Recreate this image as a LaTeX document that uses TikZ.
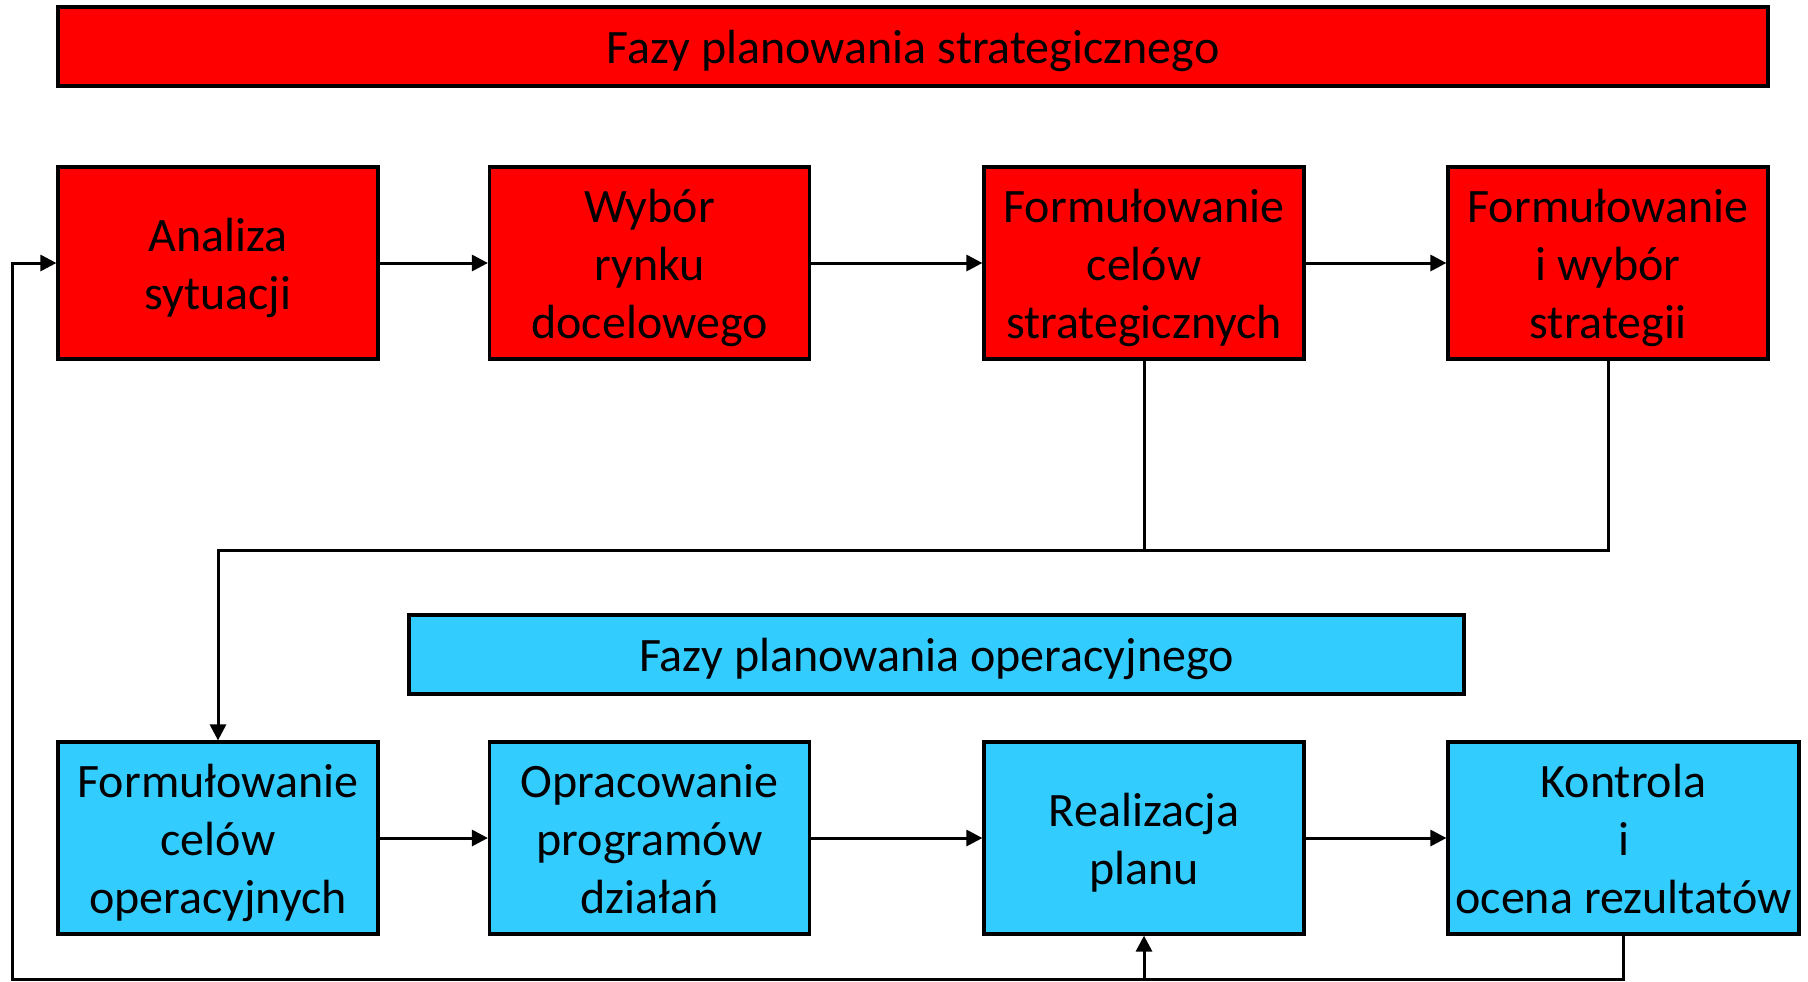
\documentclass[tikz,border=0pt]{standalone}
\usepackage{fontspec}
\setmainfont{Carlito}
\usepackage{xcolor}
\usepackage{tikz}
\usetikzlibrary{positioning, arrows.meta}

\definecolor{stratred}{RGB}{255,0,0}
\definecolor{operblue}{RGB}{51,204,255}

\begin{document}
\begin{tikzpicture}[x=0.5pt,y=-0.5pt,
                    every node/.style={font=\fontsize{24}{29}\selectfont,
                                       execute at begin node=\rule{0pt}{23pt},
                                       execute at end node=\rule[-6pt]{0pt}{0pt}},
                    phase/.style={draw=black, line width=1.6pt, align=flush center, text width=150pt,
                                  minimum width=160pt, minimum height=96pt, inner sep=0pt},
                    header/.style={draw=black, line width=1.6pt, minimum height=39.5pt, inner sep=0pt},
                    link/.style={line width=1.5pt, -{Triangle[length=8pt,width=8pt]}}]
\useasboundingbox (0,0) rectangle (1808,981);

% Header strategic
\node (hs) [header, fill=stratred, minimum width=855pt] at (913,46.5) {Fazy planowania strategicznego};

% Strategic phases
\node (s1) [phase, fill=stratred] at (218,263) {Analiza\\sytuacji};
\node (s2) [phase, fill=stratred] at (649.5,263) {Wybór\\rynku\\docelowego};
\node (s3) [phase, fill=stratred] at (1144,263) {Formułowanie\\celów\\strategicznych};
\node (s4) [phase, fill=stratred] at (1608,263) {Formułowanie\\i wybór\\strategii};

% Header operational
\node (ho) [header, fill=operblue, minimum width=527.5pt] at (936.5,654.5) {Fazy planowania operacyjnego};

% Operational phases
\node (o1) [phase, fill=operblue] at (218,838) {Formułowanie\\celów\\operacyjnych};
\node (o2) [phase, fill=operblue] at (649.5,838) {Opracowanie\\programów\\działań};
\node (o3) [phase, fill=operblue] at (1144,838) {Realizacja\\planu};
\node (o4) [phase, fill=operblue, text width=172pt, minimum width=175.5pt] at (1623.5,838) {Kontrola\\i\\ocena rezultatów};

\coordinate (mid) at (218,550);
\coordinate (fb) at (12,979);

% Arrows
\draw[link] (s1) -- (s2);
\draw[link] (s2) -- (s3);
\draw[link] (s3) -- (s4);
\draw[link] (o1) -- (o2);
\draw[link] (o2) -- (o3);
\draw[link] (o3) -- (o4);
\draw[line width=1.5pt] (s3.south) -- (s3.south |- mid);
\draw[link] (s4.south) |- (mid) -- (o1.north);
\draw[link] (o4.south) |- (fb) |- (s1.west);
\draw[link] (o3.south |- fb) -- (o3.south);

\end{tikzpicture}
\end{document}
